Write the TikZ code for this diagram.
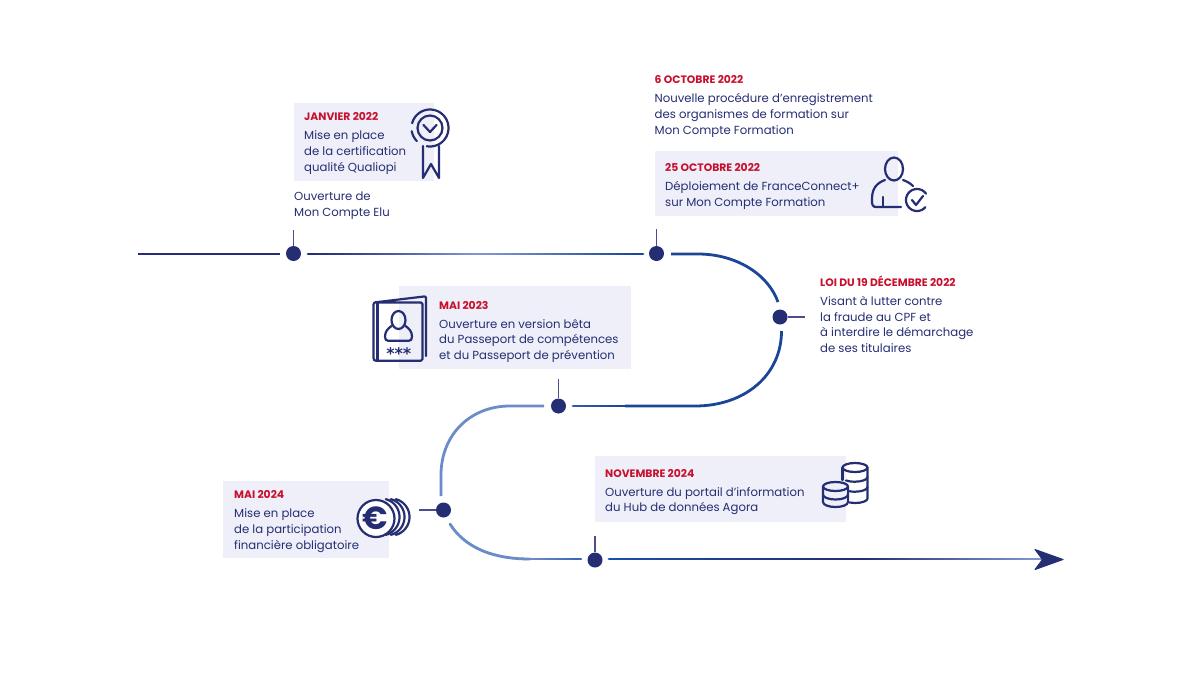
\documentclass[tikz,border=0pt]{standalone}
\usepackage{fontspec}
\setmainfont{Poppins}
\newfontfamily\starfont{DejaVu Sans}
\definecolor{navy}{HTML}{252E73}
\definecolor{midblue}{HTML}{1B4597}
\definecolor{lightblue}{HTML}{6B8CC8}
\definecolor{paleblue}{HTML}{7F97CE}
\definecolor{boxbg}{HTML}{EEEFF8}
\definecolor{datered}{HTML}{C8102E}
\definecolor{ticknavy}{HTML}{4A4E8C}
\definecolor{blueA}{HTML}{2F5BA8}
\definecolor{blueB}{HTML}{3C68B8}
\definecolor{blueC}{HTML}{1B4FA8}
\tikzset{
  dot/.style={circle,fill=navy,draw=none,minimum size=15pt,inner sep=0pt},
  panel/.style={fill=boxbg,draw=none},
  tick/.style={draw=ticknavy,line width=1.3pt},
  datelabel/.style={anchor=base west,inner sep=0pt,text=datered,font=\fontsize{10.8}{12}\selectfont\bfseries},
  bodytext/.style={anchor=north west,inner sep=0pt,align=left,text=navy,font=\fontsize{11.7}{15.8}\selectfont},
  ico/.style={draw=navy,line width=2.2pt,fill=none,line cap=round,line join=round},
  main/.style={line width=2.8pt},
}
% gradient stroke along a curve from #1 to #4 with controls #2,#3
\newcommand{\gradcurve}[7]{%
  \path (#1) .. controls (#2) and (#3) .. (#4)
    foreach \gi [evaluate=\gi as \gp using \gi/#7] in {0,...,#7} {coordinate[pos=\gp] (gp\gi)};
  \pgfmathtruncatemacro{\glast}{#7-1}%
  \foreach \gi [evaluate=\gi as \gj using int(\gi+1), evaluate=\gi as \gc using 100*\gi/\glast] in {0,...,\glast} {
    \colorlet{gtmp}{#6!\gc!#5}
    \draw[main,gtmp,line cap=round] (gp\gi) -- (gp\gj);
  }%
}
% arc of an ellipse, angles as seen on the page
\newcommand{\ringarc}[6]{%
  \draw[ico] plot[domain=#5:#6,samples=50] ({#1+#3*cos(\x)},{#2-#4*sin(\x)});%
}
\begin{document}
\begin{tikzpicture}[x=1pt,y=-1pt]
\useasboundingbox (0,0) rectangle (1200,675);
\fill[white] (0,0) rectangle (1200,675);

% panels
\fill[panel] (294,103) rectangle (434,181);
\fill[panel] (654.5,150.5) rectangle (898,216);
\fill[panel] (398.5,286) rectangle (631,369);
\fill[panel] (223,481) rectangle (388.5,558);
\fill[panel] (595,456) rectangle (846,522);

% dots
\node[dot] (d1) at (293.5,253.5) {};
\node[dot] (d2) at (656.5,253.5) {};
\node[dot] (d3) at (780,317) {};
\node[dot] (d4) at (558.5,406) {};
\node[dot] (d5) at (443.5,510) {};
\node[dot] (d6) at (595,560) {};

% free ends
\coordinate (start) at (138,254);
\coordinate (t1) at (293.5,230);
\coordinate (t2) at (656.5,229);
\coordinate (t3) at (804.5,317);
\coordinate (t4) at (558.5,379);
\coordinate (t5) at (419,510);
\coordinate (t6) at (595,536);

% ticks
\draw[tick] (d1) -- (t1);
\draw[tick] (d2) -- (t2);
\draw[tick] (d3) -- (t3);
\draw[tick] (d4) -- (t4);
\draw[tick] (d5) -- (t5);
\draw[tick] (d6) -- (t6);

% main line
\draw[main,navy] (start) -- (280,254);
\gradcurve{308,254}{390,254}{420,254}{480,254}{navy}{paleblue}{30}
\gradcurve{480,254}{540,254}{590,254}{643,254}{paleblue}{midblue}{30}
\draw[main,midblue] (671,254) -- (698,254) .. controls (736,254) and (768,274) .. (778,302);
\draw[main,midblue] (781.5,331) .. controls (781.5,375) and (745,406) .. (695,406) -- (625,406);
\gradcurve{625,406}{610,406}{590,406}{573,406}{midblue}{blueA}{10}
\draw[main,lightblue] (544,406) -- (510,406) .. controls (470,406) and (441,435) .. (441,475) -- (441,496);
\gradcurve{450,524}{464,546}{490,559}{530,559}{lightblue}{lightblue}{40}
\gradcurve{530,559}{545,559}{565,559}{581,559}{lightblue}{blueB}{10}
\gradcurve{609,559}{680,559}{780,559}{860,559}{blueC}{navy}{30}
\gradcurve{860,559}{920,559}{980,559}{1042,559}{navy}{paleblue}{30}
% arrowhead
\coordinate (arrowtip) at (1063,559.5);
\fill[navy,draw=navy,line width=1pt,line join=round] (1035,549.5) -- (arrowtip) -- (1035,569.5) -- (1042.5,559.5) -- cycle;

% texts
\node[datelabel] (l1) at (304,120.5) {JANVIER 2022};
\node[bodytext] (b1) at (304,130.5) {Mise en place\\de la certification\\qualité Qualiopi};
\node[bodytext] (b1b) at (294,191.5) {Ouverture de\\Mon Compte Elu};
\node[datelabel] (l2) at (654.5,83.5) {6 OCTOBRE 2022};
\node[bodytext] (b2) at (654.5,93.5) {Nouvelle procédure d’enregistrement\\des organismes de formation sur\\Mon Compte Formation};
\node[datelabel] (l3) at (665,171) {25 OCTOBRE 2022};
\node[bodytext] (b3) at (665,181) {Déploiement de FranceConnect+\\sur Mon Compte Formation};
\node[datelabel] (l4) at (820,286) {LOI DU 19 DÉCEMBRE 2022};
\node[bodytext] (b4) at (820,296) {Visant à lutter contre\\la fraude au CPF et\\à interdire le démarchage\\de ses titulaires};
\node[datelabel] (l5) at (439,309) {MAI 2023};
\node[bodytext] (b5) at (439,319) {Ouverture en version bêta\\du Passeport de compétences\\et du Passeport de prévention};
\node[datelabel] (l6) at (234,498.5) {MAI 2024};
\node[bodytext] (b6) at (234,508.5) {Mise en place\\de la participation\\financière obligatoire};
\node[datelabel] (l7) at (605,477) {NOVEMBRE 2024};
\node[bodytext] (b7) at (605,487) {Ouverture du portail d’information\\du Hub de données Agora};

% medal icon
\draw[ico] (430,128) circle (12.5);
\draw[ico] (423.5,125) -- (430,132) -- (436.5,125);
\ringarc{430}{128}{18.5}{18.5}{165}{-100}
\ringarc{430}{128}{18.5}{18.5}{190}{225}
\draw[ico] (423,146) -- (423,178) -- (431,164) -- (439,178) -- (439,146);

% user icon
\draw[ico] (894,169) ellipse (9 and 11.5);
\draw[ico] (885,180) .. controls (877,183) and (872,188) .. (872,199) .. controls (871.5,205) and (873,207) .. (876,207) -- (901,207);
\draw[ico] (903,180) .. controls (906,181) and (910,183) .. (913,186);
\draw[ico] (883,197) -- (883,207);
\ringarc{917}{200}{11}{11}{35}{320}
\draw[ico] (912,200) -- (916,205) -- (923,196);

% passport icon
\draw[ico] (375.5,302.5) -- (421,302.5) .. controls (422,302.5) and (422.5,303) .. (422.5,304) -- (422.5,359) .. controls (422.5,360) and (422,360.7) .. (421,360.7) -- (376,360.7) .. controls (374.5,360.7) and (373.5,360) .. (373.5,358) -- (373.5,304.5) .. controls (373.5,303) and (374.5,302.5) .. (375.5,302.3) -- (424,296.5) .. controls (425.5,296.3) and (426,297) .. (426,298) -- (426,356);
\draw[ico] (377.5,302.5) -- (377.5,360.7);
\draw[ico] (398.5,320) ellipse (7 and 9);
\draw[ico] (391.5,326) .. controls (388,328.5) and (385,331.5) .. (385,336.5) .. controls (385,339.5) and (386,340.7) .. (388,340.7) -- (409,340.7) .. controls (411,340.7) and (412,339.5) .. (412,336.5) .. controls (412,331.5) and (409,328.5) .. (405.5,326);
\node[anchor=center,inner sep=0pt,text=navy,font=\starfont\fontsize{16}{16}\selectfont\bfseries] (stars) at (398.8,353.3) {***};

% euro icon
\foreach \dx in {5,10,15}{\ringarc{376+\dx}{517}{18.5}{18.5}{75}{-75}}
\draw[ico,fill=white] (376,518.5) circle (18.5);
\node[anchor=center,inner sep=0pt,text=navy,font=\fontsize{32}{32}\selectfont\bfseries] (euro) at (375.5,518.5) {€};

% database icon
\draw[ico] (855,467.5) ellipse (12.5 and 4.5);
\draw[ico] (842.5,467.5) -- (842.5,480);
\draw[ico] (867.5,467.5) -- (867.5,498.5) .. controls (867.5,501) and (862,503) .. (855,503) -- (849.5,502.5);
\draw[ico] (846,480.5) .. controls (848,481.2) and (851,481.7) .. (855,481.7) .. controls (862,481.7) and (867.5,479.5) .. (867.5,477);
\draw[ico] (849.5,491.2) .. controls (851,491.6) and (853,491.7) .. (855,491.7) .. controls (862,491.7) and (867.5,489.5) .. (867.5,487);
\draw[ico] (835.5,486.5) ellipse (12.5 and 4.5);
\draw[ico] (823,486.5) -- (823,502) .. controls (823,505) and (829,507) .. (835.5,507) .. controls (842,507) and (848,505) .. (848,502) -- (848,486.5);
\draw[ico] (823,494.5) .. controls (823,497.5) and (829,499.5) .. (835.5,499.5) .. controls (842,499.5) and (848,497.5) .. (848,494.5);
\end{tikzpicture}
\end{document}
